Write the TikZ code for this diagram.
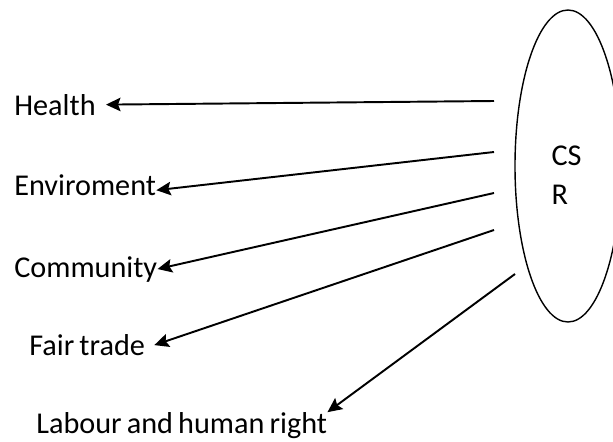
\documentclass[tikz,border=0pt]{standalone}
\usepackage{fontspec}
\setmainfont{Carlito}
\usetikzlibrary{shapes.geometric, arrows.meta, positioning, calc}
\newcommand{\topicfont}{\fontsize{17.2}{22}\selectfont\spaceskip=0.17em\relax}
\tikzstyle{topic} = [anchor=base west, inner sep=0pt, font=\topicfont]
\tikzstyle{hub} = [ellipse, draw, line width=0.8pt, minimum width=2.12cm, minimum height=6.24cm]
\tikzstyle{arrow} = [-{Stealth[length=2.9mm, width=2.7mm, inset=0.5mm]}, line width=1.1pt]

\begin{document}
\begin{tikzpicture}
    \useasboundingbox (0,0) rectangle (12.26,8.82);
    \clip (0,0) rectangle (12.26,8.82);

    % CSR
    \node[hub] (csr) at (11.36,5.5) {};
    \node[topic, anchor=center, align=left] (csrtext) at (11.33,5.31) {CS\\R};

    % Topics
    \node[topic] (health) at (0.28,6.52) {Health};
    \node[topic] (enviroment) at (0.28,4.91) {Enviroment};
    \node[topic] (community) at (0.28,3.28) {Community};
    \node[topic] (fairtrade) at (0.58,1.71) {Fair trade};
    \node[topic] (labour) at (0.72,0.15) {Labour and human right};

    % Arrows
    \coordinate (s1) at (9.88,6.80);
    \coordinate (s2) at (9.88,5.78);
    \coordinate (s3) at (9.88,4.96);
    \coordinate (s4) at (9.88,4.22);
    \coordinate (s5) at (10.30,3.34);
    \draw[arrow] (s1) -- ([xshift=0.2cm]health.east);
    \draw[arrow] (s2) -- ([yshift=-0.1cm]enviroment.east);
    \draw[arrow] (s3) -- (community.east);
    \draw[arrow] (s4) -- ([xshift=0.18cm]fairtrade.east);
    \draw[arrow] (s5) -- (labour.north east);
\end{tikzpicture}
\end{document}
